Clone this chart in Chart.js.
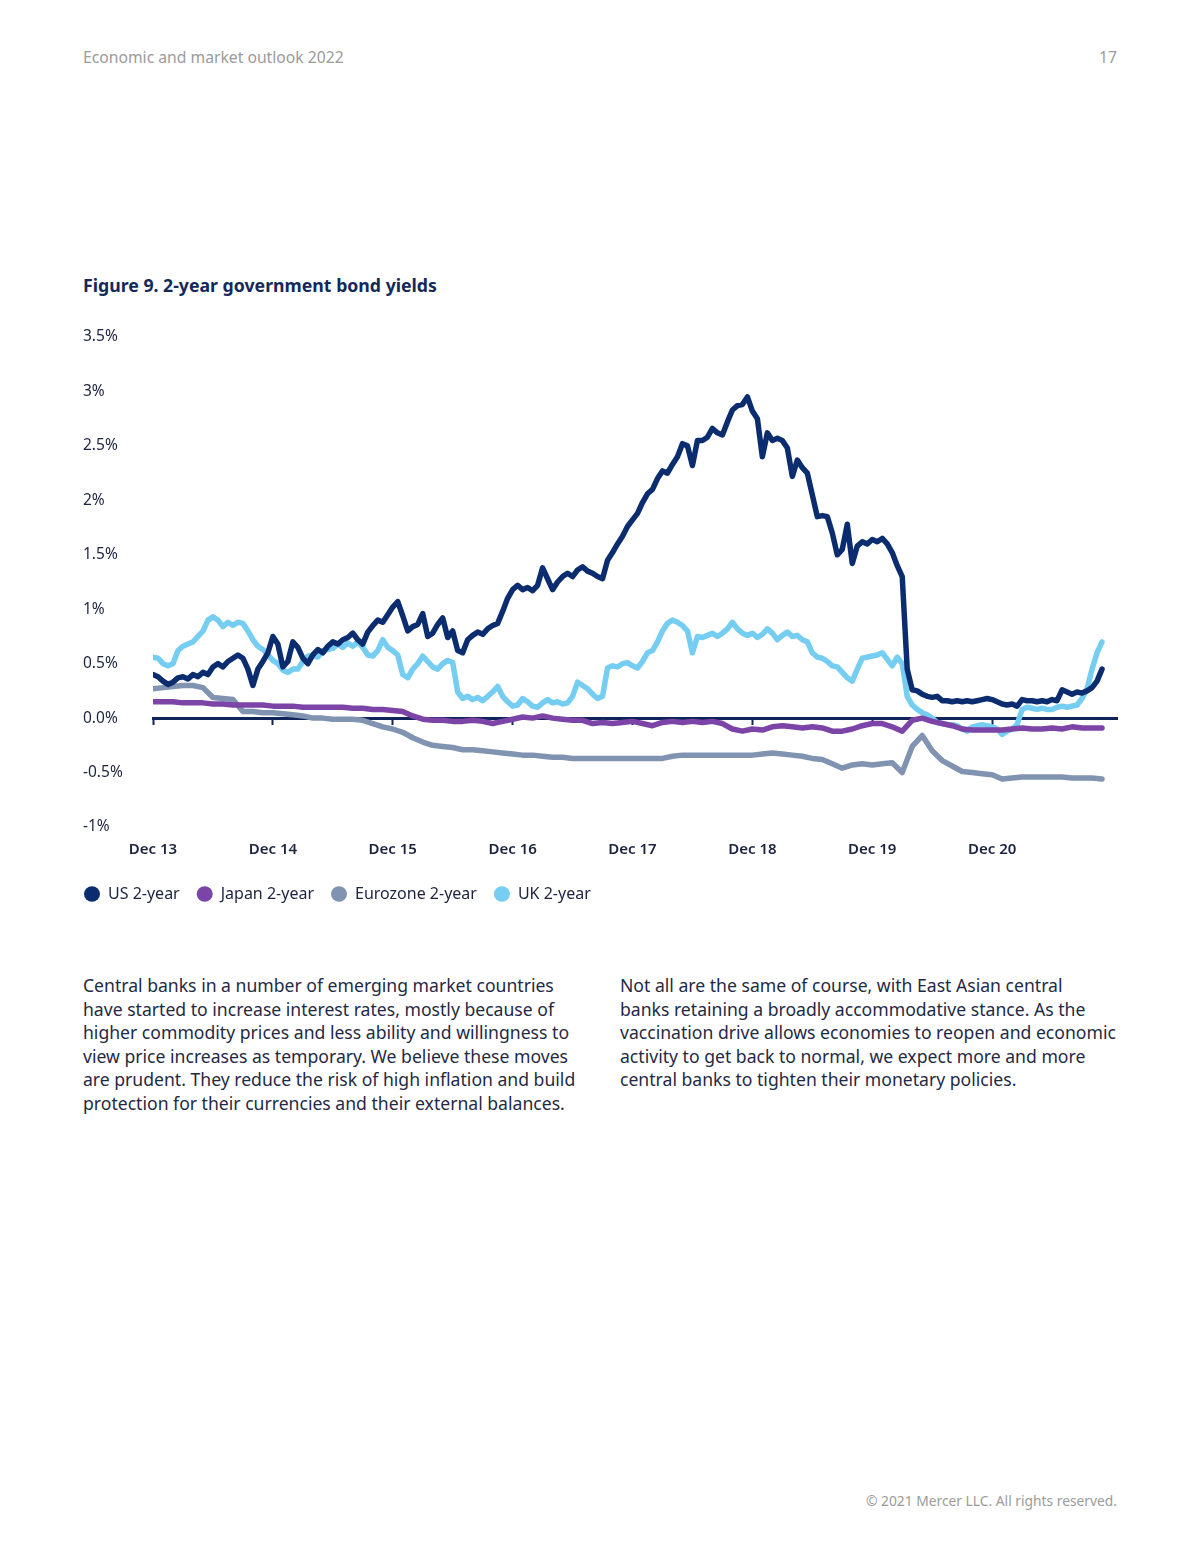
<!DOCTYPE html>
<html>
<head>
<meta charset="utf-8">
<title>2-year government bond yields</title>
<script src="https://cdn.jsdelivr.net/npm/chart.js@4.4.1/dist/chart.umd.min.js"></script>
<style>
  body { margin: 0; width: 1200px; height: 1553px; background: #fff; position: relative; font-family: "Noto Sans", sans-serif; }
  .t { position: absolute; white-space: nowrap; }
  #head { left: 83px; top: 47px; font-size: 15.7px; line-height: 20px; color: #9b9b9b; }
  #pageno { right: 83px; top: 47px; font-size: 15.7px; line-height: 20px; color: #9b9b9b; }
  #title { left: 83px; top: 273px; font-size: 17.7px; line-height: 24px; font-weight: bold; color: #14295a; }
  .col { top: 974px; font-size: 17.6px; line-height: 23.6px; color: #1f2a44; }
  #colL { left: 83px; }
  #colR { left: 620px; }
  #foot { right: 83px; top: 1491px; font-size: 13.8px; line-height: 20px; color: #9b9b9b; }
  #wrap { position: absolute; left: 0; top: 300px; width: 1200px; height: 620px; }
</style>
</head>
<body>
<div class="t" id="head">Economic and market outlook 2022</div>
<div class="t" id="pageno">17</div>
<div class="t" id="title">Figure 9. 2-year government bond yields</div>
<div id="wrap"><canvas id="myChart" width="1200" height="620"></canvas></div>
<div class="t col" id="colL">Central banks in a number of emerging market countries<br>have started to increase interest rates, mostly because of<br>higher commodity prices and less ability and willingness to<br>view price increases as temporary. We believe these moves<br>are prudent. They reduce the risk of high inflation and build<br>protection for their currencies and their external balances.</div>
<div class="t col" id="colR">Not all are the same of course, with East Asian central<br>banks retaining a broadly accommodative stance. As the<br>vaccination drive allows economies to reopen and economic<br>activity to get back to normal, we expect more and more<br>central banks to tighten their monetary policies.</div>
<div class="t" id="foot">© 2021 Mercer LLC. All rights reserved.</div>
<script>
// x = months since Dec 2013
const xTickLabels = ['Dec 13', 'Dec 14', 'Dec 15', 'Dec 16', 'Dec 17', 'Dec 18', 'Dec 19', 'Dec 20'];
const yTickLabels = ['-1%', '-0.5%', '0.0%', '0.5%', '1%', '1.5%', '2%', '2.5%', '3%', '3.5%'];
const seriesNames = ['US 2-year', 'Japan 2-year', 'Eurozone 2-year', 'UK 2-year'];

// twice a month, Dec 2013 - Nov 2021
const usYield = [
  0.40,0.38,0.34,0.31,0.33,0.37,0.38,0.36,0.40,0.38,
  0.42,0.40,0.47,0.50,0.47,0.52,0.55,0.58,0.55,0.45,
  0.30,0.45,0.52,0.60,0.75,0.68,0.47,0.52,0.70,0.65,
  0.55,0.50,0.58,0.63,0.60,0.66,0.70,0.68,0.72,0.74,
  0.78,0.72,0.68,0.79,0.85,0.90,0.88,0.95,1.02,1.07,
  0.94,0.80,0.84,0.86,0.96,0.75,0.78,0.86,0.92,0.74,
  0.80,0.62,0.60,0.72,0.76,0.79,0.77,0.82,0.85,0.87,
  0.98,1.10,1.18,1.22,1.18,1.20,1.17,1.22,1.38,1.28,
  1.18,1.25,1.30,1.33,1.30,1.36,1.39,1.35,1.33,1.30,
  1.28,1.45,1.52,1.60,1.67,1.76,1.82,1.88,1.98,2.06,
  2.10,2.20,2.27,2.25,2.33,2.40,2.52,2.50,2.32,2.55,
  2.55,2.58,2.66,2.62,2.60,2.72,2.83,2.87,2.88,2.95,
  2.82,2.75,2.40,2.62,2.55,2.57,2.55,2.48,2.22,2.37,
  2.30,2.25,2.05,1.85,1.86,1.85,1.70,1.50,1.55,1.78,
  1.42,1.58,1.62,1.60,1.64,1.62,1.65,1.60,1.52,1.40,
  1.30,0.45,0.26,0.25,0.22,0.20,0.19,0.20,0.16,0.16,
  0.15,0.16,0.15,0.16,0.15,0.16,0.17,0.18,0.17,0.15,
  0.13,0.12,0.13,0.11,0.17,0.16,0.16,0.15,0.16,0.15,
  0.17,0.16,0.26,0.24,0.22,0.24,0.23,0.25,0.28,0.34,
  0.45
];
const ukYield = [
  0.56,0.55,0.50,0.48,0.50,0.62,0.66,0.68,0.70,0.75,
  0.80,0.90,0.93,0.90,0.84,0.88,0.85,0.88,0.87,0.80,
  0.72,0.66,0.63,0.58,0.53,0.50,0.44,0.42,0.45,0.45,
  0.52,0.57,0.57,0.56,0.62,0.63,0.64,0.68,0.65,0.69,
  0.66,0.70,0.65,0.58,0.57,0.62,0.72,0.65,0.62,0.58,
  0.40,0.37,0.45,0.50,0.57,0.52,0.47,0.45,0.50,0.53,
  0.51,0.24,0.18,0.20,0.17,0.19,0.16,0.20,0.24,0.29,
  0.20,0.15,0.11,0.12,0.18,0.15,0.11,0.10,0.14,0.17,
  0.14,0.15,0.13,0.14,0.20,0.33,0.30,0.27,0.22,0.18,
  0.20,0.46,0.48,0.47,0.50,0.51,0.48,0.46,0.52,0.60,
  0.62,0.70,0.80,0.87,0.90,0.88,0.85,0.80,0.60,0.75,
  0.74,0.76,0.78,0.75,0.78,0.82,0.88,0.82,0.78,0.76,
  0.78,0.74,0.77,0.82,0.78,0.72,0.76,0.79,0.75,0.76,
  0.72,0.70,0.60,0.56,0.55,0.52,0.48,0.47,0.42,0.37,
  0.34,0.45,0.55,0.56,0.57,0.58,0.60,0.54,0.48,0.56,
  0.50,0.20,0.12,0.08,0.05,0.03,0.00,-0.04,-0.05,-0.06,
  -0.06,-0.07,-0.10,-0.12,-0.08,-0.07,-0.06,-0.07,-0.08,-0.10,
  -0.15,-0.12,-0.10,-0.06,0.08,0.10,0.09,0.08,0.09,0.08,
  0.08,0.10,0.11,0.10,0.11,0.12,0.18,0.27,0.45,0.60,
  0.70
];

// monthly, Dec 2013 - Nov 2021
const japanYield = [
  0.15,0.15,0.15,0.14,0.14,0.14,0.13,0.13,0.12,0.12,
  0.12,0.12,0.11,0.11,0.11,0.10,0.10,0.10,0.10,0.10,
  0.09,0.09,0.08,0.08,0.07,0.06,0.02,-0.01,-0.02,-0.02,
  -0.03,-0.03,-0.02,-0.03,-0.05,-0.03,-0.01,0.01,0.00,0.02,
  0.00,-0.01,-0.02,-0.02,-0.05,-0.04,-0.05,-0.04,-0.03,-0.05,
  -0.07,-0.04,-0.03,-0.04,-0.03,-0.04,-0.03,-0.05,-0.10,-0.12,
  -0.10,-0.11,-0.08,-0.07,-0.08,-0.09,-0.08,-0.09,-0.12,-0.12,
  -0.10,-0.07,-0.05,-0.05,-0.08,-0.12,-0.02,0.00,-0.03,-0.05,
  -0.07,-0.10,-0.11,-0.11,-0.11,-0.11,-0.10,-0.09,-0.10,-0.10,
  -0.09,-0.10,-0.08,-0.09,-0.09,-0.09
];
const euroYield = [
  0.27,0.28,0.29,0.30,0.30,0.28,0.19,0.18,0.17,0.06,
  0.06,0.05,0.05,0.04,0.03,0.02,0.00,0.00,-0.01,-0.01,
  -0.01,-0.02,-0.05,-0.08,-0.10,-0.13,-0.18,-0.22,-0.25,-0.26,
  -0.27,-0.29,-0.29,-0.30,-0.31,-0.32,-0.33,-0.34,-0.34,-0.35,
  -0.36,-0.36,-0.37,-0.37,-0.37,-0.37,-0.37,-0.37,-0.37,-0.37,
  -0.37,-0.37,-0.35,-0.34,-0.34,-0.34,-0.34,-0.34,-0.34,-0.34,
  -0.34,-0.33,-0.32,-0.33,-0.34,-0.35,-0.37,-0.38,-0.42,-0.46,
  -0.43,-0.42,-0.43,-0.42,-0.41,-0.50,-0.26,-0.16,-0.30,-0.39,
  -0.44,-0.49,-0.50,-0.51,-0.52,-0.56,-0.55,-0.54,-0.54,-0.54,
  -0.54,-0.54,-0.55,-0.55,-0.55,-0.56
];

const colors = ['#0b2d6f', '#7b44a6', '#8093b1', '#76cdf2'];
const navy = '#10245a';
const labelColor = '#1c2340';

function toPoints(values, step) {
  return values.map((v, i) => ({ x: i * step, y: v }));
}

function line(i, values, step) {
  return {
    label: seriesNames[i],
    data: toPoints(values, step),
    borderColor: colors[i],
    backgroundColor: colors[i],
    pointBackgroundColor: colors[i],
    borderWidth: 5.5,
    pointRadius: 0,
    pointBorderWidth: 0,
    borderJoinStyle: 'round',
    borderCapStyle: 'round',
    tension: 0
  };
}

// legend starts a little left of the y labels
const legendShift = {
  id: 'legendShift',
  afterLayout(chart) {
    chart.legend.left -= 16;
  }
};

const keepYears = (scale) => {
  scale.ticks = scale.ticks.filter(t => t.value <= 84);
};

const ctx = document.getElementById('myChart').getContext('2d');
const myChart = new Chart(ctx, {
  type: 'line',
  data: {
    datasets: [
      line(0, usYield, 0.5),
      line(1, japanYield, 1),
      line(2, euroYield, 1),
      line(3, ukYield, 0.5)
    ]
  },
  plugins: [legendShift],
  options: {
    responsive: false,
    animation: false,
    events: [],
    layout: { padding: { left: 83, right: 83, top: 37, bottom: 8 } },
    scales: {
      x: {
        type: 'linear',
        position: 'bottom',
        min: 0,
        max: 96.5,
        afterBuildTicks: keepYears,
        afterFit: (scale) => { scale.height = 42; },
        grid: { display: false, drawTicks: false },
        border: { display: false },
        ticks: {
          stepSize: 12,
          padding: 14,
          color: labelColor,
          font: { family: 'Noto Sans', size: 15, weight: '600' },
          callback: (value) => xTickLabels[value / 12]
        }
      },
      x0: {
        type: 'linear',
        position: { y: 0 },
        min: 0,
        max: 96.5,
        afterBuildTicks: keepYears,
        grid: { display: true, drawOnChartArea: false, drawTicks: true, tickLength: 5, tickWidth: 2, tickColor: navy },
        border: { display: true, color: navy, width: 3 },
        ticks: { display: false, stepSize: 12 }
      },
      y: {
        min: -1,
        max: 3.5,
        afterFit: (scale) => { scale.width = 70; },
        grid: { display: false },
        border: { display: false },
        ticks: {
          stepSize: 0.5,
          crossAlign: 'far',
          color: labelColor,
          font: { family: 'Noto Sans', size: 15.5 },
          callback: (value, index) => yTickLabels[index]
        }
      }
    },
    plugins: {
      legend: {
        position: 'bottom',
        align: 'start',
        labels: {
          usePointStyle: true,
          pointStyleWidth: 16,
          boxHeight: 11,
          padding: 17,
          color: labelColor,
          font: { family: 'Noto Sans', size: 16 }
        }
      },
      tooltip: { enabled: false }
    }
  }
});
</script>
</body>
</html>
